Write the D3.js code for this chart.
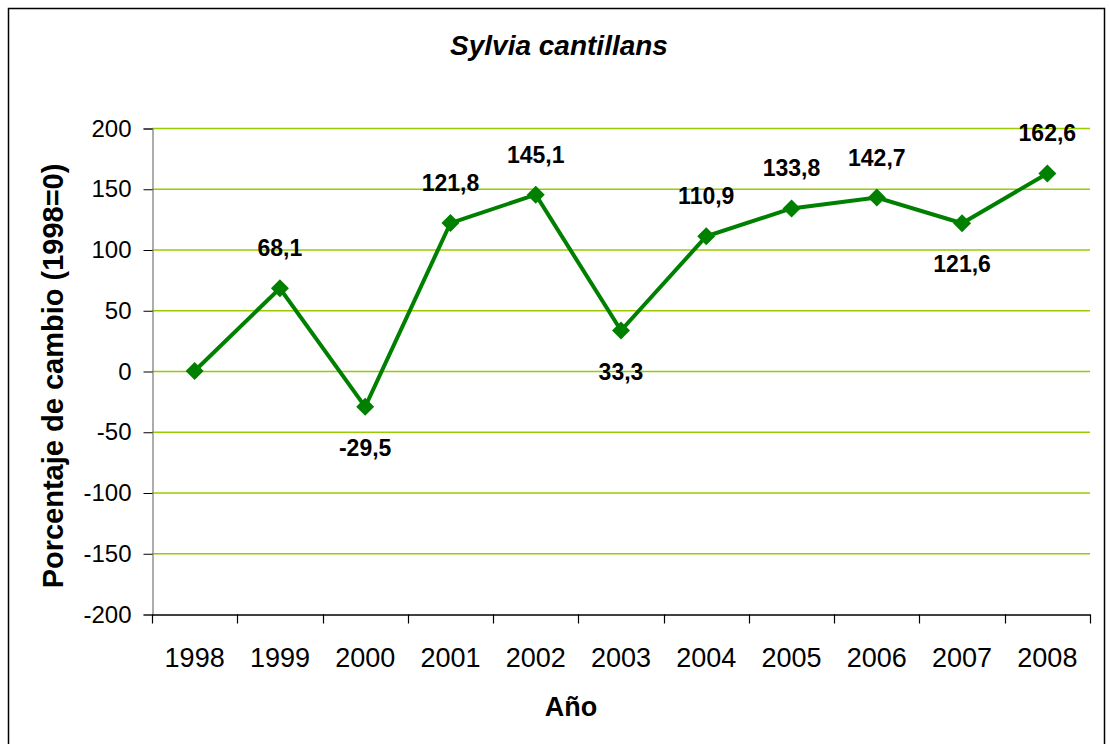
<!DOCTYPE html>
<html>
<head>
<meta charset="utf-8">
<script src="https://cdn.jsdelivr.net/npm/d3@7"></script>
<style>
  html, body { margin: 0; padding: 0; background: #fff; }
  svg { display: block; font-family: "Liberation Sans", Arial, sans-serif; }
</style>
</head>
<body>
<svg id="chart" width="1110" height="744"></svg>
<script>
const years = ["1998","1999","2000","2001","2002","2003","2004","2005","2006","2007","2008"];
const values = [0, 68.1, -29.5, 121.8, 145.1, 33.3, 110.9, 133.8, 142.7, 121.6, 162.6];
const yTicks = [-200, -150, -100, -50, 0, 50, 100, 150, 200];
const title = "Sylvia cantillans";
const yTitle = "Porcentaje de cambio (1998=0)";
const xTitle = "Año";

const svg = d3.select("#chart");
const plot = { left: 152, right: 1090, top: 128, bottom: 614 };

// outer border
svg.append("rect")
  .attr("x", 8.5).attr("y", 8.5)
  .attr("width", 1096).attr("height", 745)
  .attr("fill", "#fff").attr("stroke", "#000").attr("stroke-width", 1.5);

const x = d3.scaleBand().domain(years).range([plot.left, plot.right]).padding(0);
const y = d3.scaleLinear().domain([-200, 200]).range([plot.bottom, plot.top]);

// gridlines
svg.append("g").selectAll("line")
  .data(yTicks.filter(t => t !== -200))
  .join("line")
  .attr("x1", plot.left).attr("x2", plot.right)
  .attr("y1", d => y(d) + 0.5).attr("y2", d => y(d) + 0.5)
  .attr("stroke", "#99CC00").attr("stroke-width", 1.3);

// y axis
const yAxis = svg.append("g")
  .attr("transform", `translate(${plot.left + 0.5},0.5)`)
  .call(d3.axisLeft(y).tickValues(yTicks).tickSize(9).tickPadding(12).tickFormat(d3.format("d")));
yAxis.select(".domain").attr("stroke", "#808080").attr("stroke-width", 1.3);
yAxis.selectAll(".tick line").attr("stroke", "#000");
yAxis.selectAll(".tick text")
  .attr("font-size", 24).attr("fill", "#000")
  .attr("font-family", "'Liberation Sans', Arial, sans-serif")
  .text(d => d < 0 ? "-" + Math.abs(d) : d);

// x axis (labels at band centres, ticks at band boundaries)
const xAxis = svg.append("g")
  .attr("transform", `translate(0,${plot.bottom + 0.5})`)
  .call(d3.axisBottom(x).tickSize(0).tickPadding(33));
xAxis.select(".domain").attr("stroke", "#000").attr("stroke-width", 1.3);
xAxis.selectAll(".tick text")
  .attr("font-size", 27).attr("fill", "#000")
  .attr("font-family", "'Liberation Sans', Arial, sans-serif");
const bounds = years.map(d => x(d)).concat([x(years[years.length - 1]) + x.bandwidth()]);
xAxis.selectAll("line.bt").data(bounds).join("line")
  .attr("class", "bt")
  .attr("x1", d => Math.round(d) + 0.5).attr("x2", d => Math.round(d) + 0.5)
  .attr("y1", 0).attr("y2", 9)
  .attr("stroke", "#000").attr("stroke-width", 1.2);

// line
const pts = years.map((yr, i) => ({ yr, v: values[i], i }));
const cx = d => x(d.yr) + x.bandwidth() / 2;
svg.append("path")
  .datum(pts)
  .attr("d", d3.line().x(cx).y(d => y(d.v)))
  .attr("fill", "none").attr("stroke", "#008000").attr("stroke-width", 4)
  .attr("stroke-linejoin", "miter");

// diamond markers
const r = 9;
svg.append("g").selectAll("path")
  .data(pts).join("path")
  .attr("d", d => {
    const px = cx(d), py = y(d.v);
    return `M${px},${py - r}L${px + r},${py}L${px},${py + r}L${px - r},${py}Z`;
  })
  .attr("fill", "#008000");

// data labels (none for the base year; below at local minima, above otherwise)
const fmt = v => v.toFixed(1).replace(".", ",");
svg.append("g").selectAll("text")
  .data(pts.filter(d => d.i > 0))
  .join("text")
  .attr("x", cx)
  .attr("y", d => {
    const prev = values[d.i - 1], next = d.i < values.length - 1 ? values[d.i + 1] : -Infinity;
    const isMin = d.v < prev && d.v < next;
    return isMin ? y(d.v) + 49 : y(d.v) - 32;
  })
  .attr("text-anchor", "middle")
  .attr("font-size", 23).attr("font-weight", "bold").attr("fill", "#000")
  .text(d => fmt(d.v));

// title
svg.append("text")
  .attr("x", 559).attr("y", 55)
  .attr("text-anchor", "middle")
  .attr("font-size", 28).attr("font-weight", "bold").attr("font-style", "italic")
  .text(title);

// y-axis title
svg.append("text")
  .attr("transform", `translate(63,376) rotate(-90)`)
  .attr("text-anchor", "middle")
  .attr("font-size", 29).attr("font-weight", "bold")
  .text(yTitle);

// x-axis title
svg.append("text")
  .attr("x", 571).attr("y", 716)
  .attr("text-anchor", "middle")
  .attr("font-size", 27).attr("font-weight", "bold")
  .text(xTitle);
</script>
</body>
</html>
